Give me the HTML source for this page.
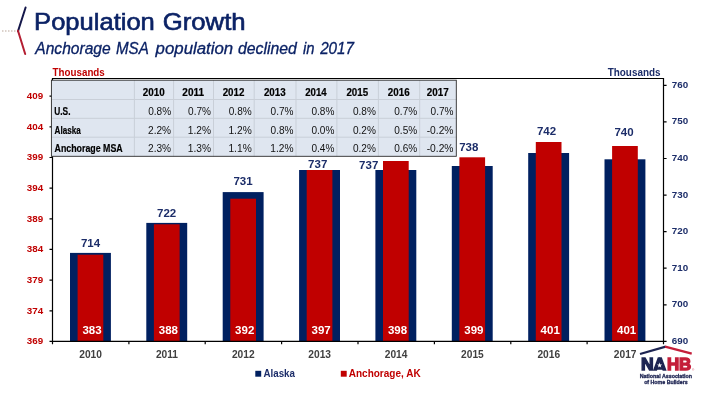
<!DOCTYPE html>
<html lang="en"><head><meta charset="utf-8"><title>Population Growth</title>
<style>
html,body{margin:0;padding:0;background:#fff;}
body{width:720px;height:405px;overflow:hidden;}
svg{display:block;}
text{font-family:"Liberation Sans",sans-serif;}
.b{font-weight:bold;}
</style></head><body>
<svg width="720" height="405" viewBox="0 0 720 405">
<rect width="720" height="405" fill="#fff"/>
<line x1="2.2" y1="31" x2="17" y2="31" stroke="#a8907f" stroke-width="1.1" stroke-dasharray="1.2,1.8"/>
<line x1="25.6" y1="7.5" x2="18" y2="31.2" stroke="#14174A" stroke-width="2" stroke-linecap="round"/>
<line x1="18" y1="30.8" x2="25.2" y2="54" stroke="#B41E32" stroke-width="2" stroke-linecap="round"/>
<text x="34.10" y="29.5" font-size="23.7" fill="#0B2265" stroke="#0B2265" stroke-width="0.6" textLength="120.73" lengthAdjust="spacingAndGlyphs">Population</text>
<text x="162.69" y="29.5" font-size="23.7" fill="#0B2265" stroke="#0B2265" stroke-width="0.6" textLength="82.95" lengthAdjust="spacingAndGlyphs">Growth</text>
<text x="35.27" y="54" font-size="16" font-style="italic" fill="#0B2265" stroke="#0B2265" stroke-width="0.3" textLength="75.41" lengthAdjust="spacingAndGlyphs">Anchorage</text>
<text x="115.96" y="54" font-size="16" font-style="italic" fill="#0B2265" stroke="#0B2265" stroke-width="0.3" textLength="32.77" lengthAdjust="spacingAndGlyphs">MSA</text>
<text x="155.63" y="54" font-size="16" font-style="italic" fill="#0B2265" stroke="#0B2265" stroke-width="0.3" textLength="77.56" lengthAdjust="spacingAndGlyphs">population</text>
<text x="237.91" y="54" font-size="16" font-style="italic" fill="#0B2265" stroke="#0B2265" stroke-width="0.3" textLength="58.90" lengthAdjust="spacingAndGlyphs">declined</text>
<text x="303.07" y="54" font-size="16" font-style="italic" fill="#0B2265" stroke="#0B2265" stroke-width="0.3" textLength="11.53" lengthAdjust="spacingAndGlyphs">in</text>
<text x="320.14" y="54" font-size="16" font-style="italic" fill="#0B2265" stroke="#0B2265" stroke-width="0.3" textLength="33.89" lengthAdjust="spacingAndGlyphs">2017</text>
<text x="52.60" y="76.4" font-size="10.0" font-weight="bold" fill="#C00000"  textLength="52.20" lengthAdjust="spacingAndGlyphs">Thousands</text>
<text x="607.70" y="76.4" font-size="10.0" font-weight="bold" fill="#1C2D69"  textLength="52.90" lengthAdjust="spacingAndGlyphs">Thousands</text>
<rect x="70.0" y="252.9" width="40.9" height="88.5" fill="#002060"/>
<rect x="146.3" y="222.9" width="40.9" height="118.5" fill="#002060"/>
<rect x="222.7" y="192.1" width="40.9" height="149.3" fill="#002060"/>
<rect x="299.1" y="170" width="40.9" height="171.4" fill="#002060"/>
<rect x="375.4" y="170" width="40.9" height="171.4" fill="#002060"/>
<rect x="451.8" y="166" width="40.9" height="175.4" fill="#002060"/>
<rect x="528.2" y="153" width="40.9" height="188.4" fill="#002060"/>
<rect x="604.5" y="159.3" width="40.9" height="182.1" fill="#002060"/>
<rect x="77.6" y="254.7" width="25.7" height="86.7" fill="#C00000"/>
<rect x="153.9" y="224.3" width="25.7" height="117.1" fill="#C00000"/>
<rect x="230.3" y="198.7" width="25.7" height="142.7" fill="#C00000"/>
<rect x="306.7" y="170" width="25.7" height="171.4" fill="#C00000"/>
<rect x="383.0" y="161" width="25.7" height="180.4" fill="#C00000"/>
<rect x="459.4" y="157.3" width="25.7" height="184.1" fill="#C00000"/>
<rect x="535.8" y="142" width="25.7" height="199.4" fill="#C00000"/>
<rect x="612.1" y="146" width="25.7" height="195.4" fill="#C00000"/>
<path d="M52.5 78.5 H663.5 V341.4 H52.5 Z" stroke="#000" stroke-width="1.2" fill="none"/>
<text class="b" x="43.2" y="344.2" font-size="9.8" fill="#C00000" text-anchor="end">369</text>
<text class="b" x="43.2" y="313.6" font-size="9.8" fill="#C00000" text-anchor="end">374</text>
<text class="b" x="43.2" y="282.9" font-size="9.8" fill="#C00000" text-anchor="end">379</text>
<text class="b" x="43.2" y="252.2" font-size="9.8" fill="#C00000" text-anchor="end">384</text>
<text class="b" x="43.2" y="221.6" font-size="9.8" fill="#C00000" text-anchor="end">389</text>
<text class="b" x="43.2" y="190.9" font-size="9.8" fill="#C00000" text-anchor="end">394</text>
<text class="b" x="43.2" y="160.3" font-size="9.8" fill="#C00000" text-anchor="end">399</text>
<text class="b" x="43.2" y="129.7" font-size="9.8" fill="#C00000" text-anchor="end">404</text>
<text class="b" x="43.2" y="99.0" font-size="9.8" fill="#C00000" text-anchor="end">409</text>
<text class="b" x="671.8" y="343.9" font-size="9.8" fill="#1C2D69">690</text>
<text class="b" x="671.8" y="307.3" font-size="9.8" fill="#1C2D69">700</text>
<text class="b" x="671.8" y="270.7" font-size="9.8" fill="#1C2D69">710</text>
<text class="b" x="671.8" y="234.2" font-size="9.8" fill="#1C2D69">720</text>
<text class="b" x="671.8" y="197.6" font-size="9.8" fill="#1C2D69">730</text>
<text class="b" x="671.8" y="161.0" font-size="9.8" fill="#1C2D69">740</text>
<text class="b" x="671.8" y="124.4" font-size="9.8" fill="#1C2D69">750</text>
<text class="b" x="671.8" y="87.8" font-size="9.8" fill="#1C2D69">760</text>
<path d="M52.5 341.4 v2.8 M128.9 341.4 v2.8 M205.2 341.4 v2.8 M281.6 341.4 v2.8 M358.0 341.4 v2.8 M434.4 341.4 v2.8 M510.8 341.4 v2.8 M587.1 341.4 v2.8 M663.5 341.4 v2.8 M52.5 341.4 h-3 M52.5 310.8 h-3 M52.5 280.1 h-3 M52.5 249.4 h-3 M52.5 218.8 h-3 M52.5 188.1 h-3 M52.5 157.5 h-3 M52.5 126.8 h-3 M52.5 96.2 h-3 M663.5 341.4 h3.1 M663.5 304.8 h3.1 M663.5 268.2 h3.1 M663.5 231.7 h3.1 M663.5 195.1 h3.1 M663.5 158.5 h3.1 M663.5 121.9 h3.1 M663.5 85.3 h3.1 " stroke="#000" stroke-width="1.2" fill="none"/>
<text class="b" x="90.6" y="357.8" font-size="10.2" fill="#404040" text-anchor="middle">2010</text>
<text class="b" x="167.0" y="357.8" font-size="10.2" fill="#404040" text-anchor="middle">2011</text>
<text class="b" x="243.3" y="357.8" font-size="10.2" fill="#404040" text-anchor="middle">2012</text>
<text class="b" x="319.7" y="357.8" font-size="10.2" fill="#404040" text-anchor="middle">2013</text>
<text class="b" x="396.1" y="357.8" font-size="10.2" fill="#404040" text-anchor="middle">2014</text>
<text class="b" x="472.4" y="357.8" font-size="10.2" fill="#404040" text-anchor="middle">2015</text>
<text class="b" x="548.8" y="357.8" font-size="10.2" fill="#404040" text-anchor="middle">2016</text>
<text class="b" x="625.2" y="357.8" font-size="10.2" fill="#404040" text-anchor="middle">2017</text>
<text class="b" x="92.0" y="334" font-size="11.5" fill="#fff" text-anchor="middle">383</text>
<text class="b" x="168.4" y="334" font-size="11.5" fill="#fff" text-anchor="middle">388</text>
<text class="b" x="244.7" y="334" font-size="11.5" fill="#fff" text-anchor="middle">392</text>
<text class="b" x="321.1" y="334" font-size="11.5" fill="#fff" text-anchor="middle">397</text>
<text class="b" x="397.5" y="334" font-size="11.5" fill="#fff" text-anchor="middle">398</text>
<text class="b" x="473.9" y="334" font-size="11.5" fill="#fff" text-anchor="middle">399</text>
<text class="b" x="550.2" y="334" font-size="11.5" fill="#fff" text-anchor="middle">401</text>
<text class="b" x="626.6" y="334" font-size="11.5" fill="#fff" text-anchor="middle">401</text>
<text class="b" x="90.5" y="247.2" font-size="11.5" fill="#1C2D69" text-anchor="middle">714</text>
<text class="b" x="166.6" y="216.6" font-size="11.5" fill="#1C2D69" text-anchor="middle">722</text>
<text class="b" x="243.0" y="184.8" font-size="11.5" fill="#1C2D69" text-anchor="middle">731</text>
<text class="b" x="317.7" y="167.5" font-size="11.5" fill="#1C2D69" text-anchor="middle">737</text>
<text class="b" x="368.7" y="168.5" font-size="11.5" fill="#1C2D69" text-anchor="middle">737</text>
<text class="b" x="468.8" y="150.9" font-size="11.5" fill="#1C2D69" text-anchor="middle">738</text>
<text class="b" x="546.5" y="134.7" font-size="11.5" fill="#1C2D69" text-anchor="middle">742</text>
<text class="b" x="624" y="135.9" font-size="11.5" fill="#1C2D69" text-anchor="middle">740</text>
<rect x="51.4" y="80.2" width="404.9" height="76.1" fill="#DFE6F0"/>
<path d="M134.4 80.2 V156.3 M173.6 80.2 V156.3 M213.5 80.2 V156.3 M254.2 80.2 V156.3 M296 80.2 V156.3 M336.9 80.2 V156.3 M378.4 80.2 V156.3 M419.7 80.2 V156.3 M51.4 99.5 H456.3 M51.4 118.3 H456.3 M51.4 137.2 H456.3 " stroke="#C9CFD8" stroke-width="1" fill="none"/>
<rect x="51.4" y="80.2" width="404.9" height="76.1" fill="none" stroke="#2b2b2b" stroke-width="0.9"/>
<text x="142.79" y="95.8" font-size="10.6" font-weight="bold" fill="#000" stroke="#000" stroke-width="0.2" textLength="21.91" lengthAdjust="spacingAndGlyphs">2010</text>
<text x="182.34" y="95.8" font-size="10.6" font-weight="bold" fill="#000" stroke="#000" stroke-width="0.2" textLength="21.76" lengthAdjust="spacingAndGlyphs">2011</text>
<text x="222.64" y="95.8" font-size="10.6" font-weight="bold" fill="#000" stroke="#000" stroke-width="0.2" textLength="21.75" lengthAdjust="spacingAndGlyphs">2012</text>
<text x="263.89" y="95.8" font-size="10.6" font-weight="bold" fill="#000" stroke="#000" stroke-width="0.2" textLength="21.75" lengthAdjust="spacingAndGlyphs">2013</text>
<text x="305.25" y="95.8" font-size="10.6" font-weight="bold" fill="#000" stroke="#000" stroke-width="0.2" textLength="21.44" lengthAdjust="spacingAndGlyphs">2014</text>
<text x="346.44" y="95.8" font-size="10.6" font-weight="bold" fill="#000" stroke="#000" stroke-width="0.2" textLength="21.75" lengthAdjust="spacingAndGlyphs">2015</text>
<text x="387.84" y="95.8" font-size="10.6" font-weight="bold" fill="#000" stroke="#000" stroke-width="0.2" textLength="21.75" lengthAdjust="spacingAndGlyphs">2016</text>
<text x="426.79" y="95.8" font-size="10.6" font-weight="bold" fill="#000" stroke="#000" stroke-width="0.2" textLength="21.91" lengthAdjust="spacingAndGlyphs">2017</text>
<text x="54.31" y="114.7" font-size="10.6" font-weight="bold" fill="#000" stroke="#000" stroke-width="0.2" textLength="16.18" lengthAdjust="spacingAndGlyphs">U.S.</text>
<text x="148.19" y="114.7" font-size="11.7" fill="#111"  textLength="22.91" lengthAdjust="spacingAndGlyphs">0.8%</text>
<text x="188.09" y="114.7" font-size="11.7" fill="#111"  textLength="22.91" lengthAdjust="spacingAndGlyphs">0.7%</text>
<text x="228.79" y="114.7" font-size="11.7" fill="#111"  textLength="22.91" lengthAdjust="spacingAndGlyphs">0.8%</text>
<text x="270.59" y="114.7" font-size="11.7" fill="#111"  textLength="22.91" lengthAdjust="spacingAndGlyphs">0.7%</text>
<text x="311.49" y="114.7" font-size="11.7" fill="#111"  textLength="22.91" lengthAdjust="spacingAndGlyphs">0.8%</text>
<text x="352.99" y="114.7" font-size="11.7" fill="#111"  textLength="22.91" lengthAdjust="spacingAndGlyphs">0.8%</text>
<text x="394.29" y="114.7" font-size="11.7" fill="#111"  textLength="22.91" lengthAdjust="spacingAndGlyphs">0.7%</text>
<text x="430.59" y="114.7" font-size="11.7" fill="#111"  textLength="22.91" lengthAdjust="spacingAndGlyphs">0.7%</text>
<text x="54.57" y="133.5" font-size="10.6" font-weight="bold" fill="#000" stroke="#000" stroke-width="0.2" textLength="26.18" lengthAdjust="spacingAndGlyphs">Alaska</text>
<text x="148.03" y="133.5" font-size="11.7" fill="#111"  textLength="23.08" lengthAdjust="spacingAndGlyphs">2.2%</text>
<text x="187.76" y="133.5" font-size="11.7" fill="#111"  textLength="23.24" lengthAdjust="spacingAndGlyphs">1.2%</text>
<text x="228.46" y="133.5" font-size="11.7" fill="#111"  textLength="23.24" lengthAdjust="spacingAndGlyphs">1.2%</text>
<text x="270.59" y="133.5" font-size="11.7" fill="#111"  textLength="22.91" lengthAdjust="spacingAndGlyphs">0.8%</text>
<text x="311.49" y="133.5" font-size="11.7" fill="#111"  textLength="22.91" lengthAdjust="spacingAndGlyphs">0.0%</text>
<text x="352.99" y="133.5" font-size="11.7" fill="#111"  textLength="22.91" lengthAdjust="spacingAndGlyphs">0.2%</text>
<text x="394.29" y="133.5" font-size="11.7" fill="#111"  textLength="22.91" lengthAdjust="spacingAndGlyphs">0.5%</text>
<text x="426.68" y="133.5" font-size="11.7" fill="#111"  textLength="26.83" lengthAdjust="spacingAndGlyphs">-0.2%</text>
<text x="54.56" y="152.2" font-size="10.6" font-weight="bold" fill="#000" stroke="#000" stroke-width="0.2" textLength="68.11" lengthAdjust="spacingAndGlyphs">Anchorage MSA</text>
<text x="148.03" y="152.2" font-size="11.7" fill="#111"  textLength="23.08" lengthAdjust="spacingAndGlyphs">2.3%</text>
<text x="187.76" y="152.2" font-size="11.7" fill="#111"  textLength="23.24" lengthAdjust="spacingAndGlyphs">1.3%</text>
<text x="228.46" y="152.2" font-size="11.7" fill="#111"  textLength="23.24" lengthAdjust="spacingAndGlyphs">1.1%</text>
<text x="270.26" y="152.2" font-size="11.7" fill="#111"  textLength="23.24" lengthAdjust="spacingAndGlyphs">1.2%</text>
<text x="311.49" y="152.2" font-size="11.7" fill="#111"  textLength="22.91" lengthAdjust="spacingAndGlyphs">0.4%</text>
<text x="352.99" y="152.2" font-size="11.7" fill="#111"  textLength="22.91" lengthAdjust="spacingAndGlyphs">0.2%</text>
<text x="394.29" y="152.2" font-size="11.7" fill="#111"  textLength="22.91" lengthAdjust="spacingAndGlyphs">0.6%</text>
<text x="426.68" y="152.2" font-size="11.7" fill="#111"  textLength="26.83" lengthAdjust="spacingAndGlyphs">-0.2%</text>
<rect x="255.3" y="370.8" width="5.9" height="5.9" fill="#002060"/>
<text x="263.45" y="376.8" font-size="10.2" font-weight="bold" fill="#1C2D69"  textLength="31.49" lengthAdjust="spacingAndGlyphs">Alaska</text>
<rect x="340.8" y="370.8" width="5.9" height="5.9" fill="#C00000"/>
<text x="348.74" y="376.8" font-size="10.2" font-weight="bold" fill="#C00000"  textLength="71.89" lengthAdjust="spacingAndGlyphs">Anchorage, AK</text>
<path d="M640 354.0 L665.7 346.7" stroke="#1D2452" stroke-width="2.3" fill="none"/>
<path d="M665.1 346.7 L691.7 353.7" stroke="#C41E3A" stroke-width="2.3" fill="none"/>
<text x="641.0" y="369.7" font-size="17.2" font-weight="bold" fill="#1D2452" stroke="#1D2452" stroke-width="1.4" stroke-linejoin="miter" textLength="25.2" lengthAdjust="spacingAndGlyphs">NA</text>
<text x="666.9" y="369.7" font-size="17.2" font-weight="bold" fill="#C41E3A" stroke="#C41E3A" stroke-width="1.4" stroke-linejoin="miter" textLength="24.4" lengthAdjust="spacingAndGlyphs">HB</text>
<polygon points="653.6,369.7 659.6,356.9 665.6,369.7" fill="#1D2452"/>
<polygon points="659.60,362.60 660.25,364.41 662.17,364.47 660.65,365.64 661.19,367.48 659.60,366.40 658.01,367.48 658.55,365.64 657.03,364.47 658.95,364.41" fill="#fff"/>
<text x="692.2" y="370.8" font-size="2.6" fill="#C41E3A">®</text>
<text x="639.67" y="377.9" font-size="5.6" font-weight="bold" fill="#1D2452" stroke="#1D2452" stroke-width="0.3" textLength="52.39" lengthAdjust="spacingAndGlyphs">National Association</text>
<text x="644.14" y="384.3" font-size="5.6" font-weight="bold" fill="#1D2452" stroke="#1D2452" stroke-width="0.3" textLength="43.58" lengthAdjust="spacingAndGlyphs">of Home Builders</text>
</svg></body></html>
